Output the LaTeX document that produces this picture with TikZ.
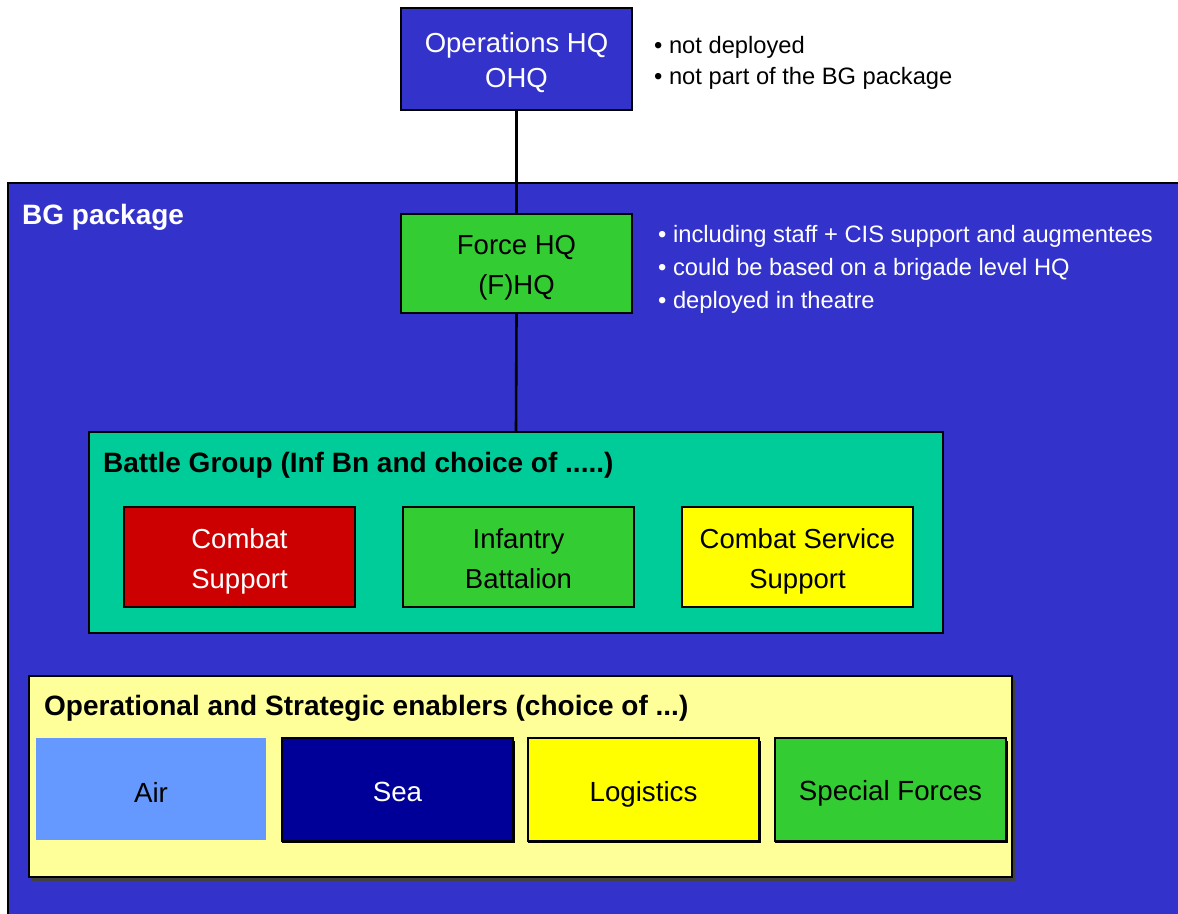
\documentclass[tikz,border=0pt]{standalone}
\usepackage{fontspec}
\setmainfont{Liberation Sans}
\definecolor{bgblue}{HTML}{3333CC}
\definecolor{hqgreen}{HTML}{33CC33}
\definecolor{teal2}{HTML}{00CC99}
\definecolor{csred}{HTML}{CC0000}
\definecolor{ylw}{HTML}{FFFF00}
\definecolor{paleylw}{HTML}{FFFF99}
\definecolor{airblue}{HTML}{6699FF}
\definecolor{seablue}{HTML}{000099}
\tikzset{
  unitbox/.style={draw=black, line width=2pt, minimum width=231pt, minimum height=100pt,
    inner sep=0pt, align=center, font=\fontsize{27.5}{40}\selectfont},
  enabler/.style={draw=black, line width=2pt, minimum width=231pt, minimum height=103pt,
    inner sep=0pt, align=center, font=\fontsize{27.7}{40}\selectfont},
  container/.style={draw=black, line width=2pt, inner sep=0pt},
  note/.style={anchor=west, align=left, inner sep=0pt, font=\fontsize{23.7}{33}\selectfont},
  title/.style={anchor=west, inner sep=0pt, font=\fontsize{28}{32}\selectfont\bfseries},
  link/.style={draw=black, line width=2.6pt}
}
\begin{document}
\begin{tikzpicture}[x=1pt,y=-1pt]
\useasboundingbox (0,0) rectangle (1178,913);
\fill[white] (0,0) rectangle (1178,913);
% outer BG package area
\filldraw[fill=bgblue, draw=black, line width=2pt] (8,183) rectangle (1190,925);
\node[title, text=white] (bglabel) at (22,217) {BG package};

% Operations HQ
\node[unitbox, fill=bgblue, text=white, minimum height=102pt,
  font=\fontsize{27.5}{35}\selectfont] (ohq) at (516.5,59) {};
\node[inner sep=0pt, align=center, text=white, font=\fontsize{27.5}{35}\selectfont] (ohqtext) at (516.5,63) {Operations HQ\\OHQ};
\node[note, text=black, font=\fontsize{23.7}{31}\selectfont] (ohqnote) at (654,63)
  {\textbullet\ not deployed\\\textbullet\ not part of the BG package};

% Force HQ
\node[unitbox, fill=hqgreen, text=black, minimum height=99pt] (fhq) at (516.5,263.5) {};
\node[inner sep=0pt, align=center, font=\fontsize{27.5}{40}\selectfont] (fhqtext) at (516.5,267.5) {Force HQ\\(F)HQ};
\node[note, text=white] (fhqnote) at (658,269)
  {\textbullet\ including staff + CIS support and augmentees\\
   \textbullet\ could be based on a brigade level HQ\\
   \textbullet\ deployed in theatre};

% Battle group container
\node[container, fill=teal2, minimum width=854pt, minimum height=201pt] (bgc) at (516,532.5) {};
\node[title, text=black] (bgtitle) at (103,465) {Battle Group (Inf Bn and choice of .....)};
\node[unitbox, fill=csred, text=white] (cs) at (239.5,557) {};
\node[inner sep=0pt, align=center, text=white, font=\fontsize{27.5}{40}\selectfont] (cstext) at (239.5,561) {Combat\\Support};
\node[unitbox, fill=hqgreen, text=black] (ib) at (518.5,557) {};
\node[inner sep=0pt, align=center, font=\fontsize{27.5}{40}\selectfont] (ibtext) at (518.5,559) {Infantry\\Battalion};
\node[unitbox, fill=ylw, text=black] (css) at (797.5,557) {};
\node[inner sep=0pt, align=center, font=\fontsize{27.5}{40}\selectfont] (csstext) at (797.5,561) {Combat Service\\Support};

% Enablers container
\fill[black!75] (31,680) rectangle (1015,881);
\node[container, fill=paleylw, minimum width=983pt, minimum height=201pt] (enc) at (520.5,776.5) {};
\node[title, text=black] (entitle) at (44,708) {Operational and Strategic enablers (choice of ...)};
\node[enabler, draw=none, fill=airblue, text=black, minimum width=230pt, minimum height=102pt] (air) at (151,789) {};
\node[inner sep=0pt, font=\fontsize{27.7}{40}\selectfont] (airtext) at (151,792) {Air};
\fill[black] (282,741) rectangle (515,843);
\node[enabler, fill=seablue, text=white] (sea) at (397.5,789.5) {};
\node[inner sep=0pt, text=white, font=\fontsize{27.7}{40}\selectfont] (seatext) at (397.5,792) {Sea};
\fill[black] (528,741) rectangle (761,843);
\node[enabler, fill=ylw, text=black] (log) at (643.5,789.5) {};
\node[inner sep=0pt, font=\fontsize{27.7}{40}\selectfont] (logtext) at (643.5,794) {Logistics};
\fill[black] (775,741) rectangle (1008,843);
\node[enabler, fill=hqgreen, text=black] (sf) at (890.5,789.5) {};
\node[inner sep=0pt, font=\fontsize{27.7}{40}\selectfont] (sftext) at (890.5,793) {Special Forces};

% connectors
\draw[link] (ohq.south) -- (fhq.north);
\draw[link] (fhq.south) -- (bgc.north);
\end{tikzpicture}
\end{document}
